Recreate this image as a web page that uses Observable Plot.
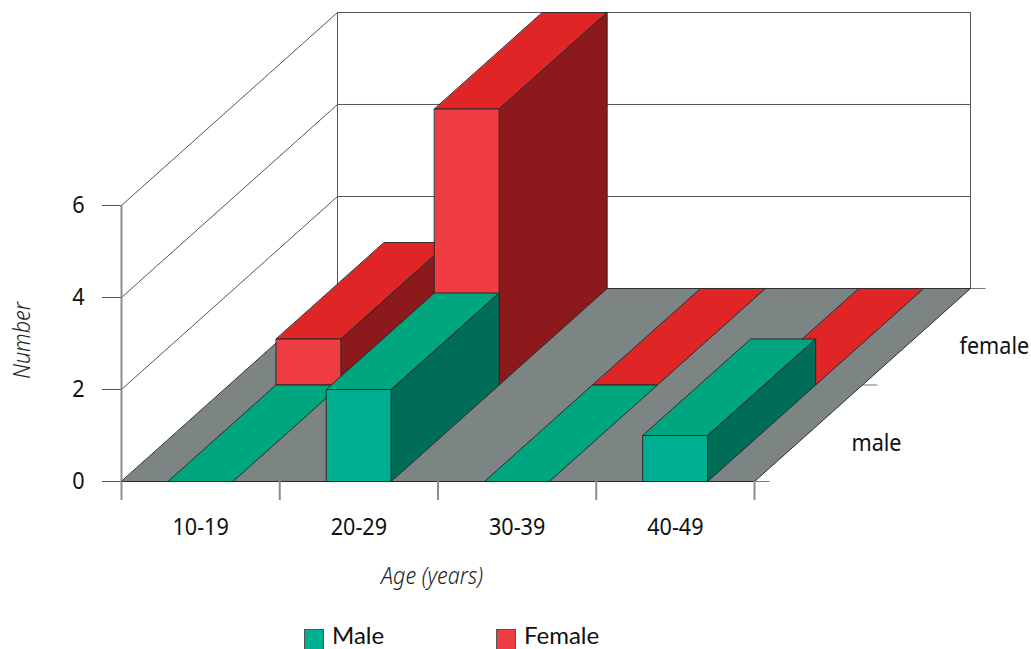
<!DOCTYPE html>
<html>
<head>
<meta charset="utf-8">
<script src="https://cdn.jsdelivr.net/npm/d3@7"></script>
<script src="https://cdn.jsdelivr.net/npm/@observablehq/plot@0.6"></script>
<style>
  html, body { margin: 0; padding: 0; background: #fff; overflow: hidden; }
  body { width: 1031px; height: 649px; font-family: "Noto Sans", sans-serif; color: #111; }
  #chart svg { display: block; }
  #legend { position: relative; height: 29px; font-family: Lato, "Noto Sans", sans-serif; font-size: 24px; line-height: 19px; }
  #legend .swatch { position: absolute; top: 9px; width: 18px; height: 19px; border: 1px solid #555; box-sizing: content-box; }
  #legend .name { position: absolute; top: 5px; height: 19px; }
</style>
</head>
<body>
<div id="chart"></div>
<div id="legend"></div>
<script>
// Counts per age group, one array per sex.
const ageGroups = ["10-19", "20-29", "30-39", "40-49"];
const maleCounts = [0, 2, 0, 1];
const femaleCounts = [1, 6, 0, 0];
const valueTicks = [0, 2, 4, 6];
const depthRows = ["male", "female"];

const maleColors = {front: "#00ae92", top: "#00a67e", side: "#006e56"};
const femaleColors = {front: "#ef3b42", top: "#e02526", side: "#8c1a1d"};
const floorColor = "#7c8484";

// Oblique projection: one unit of depth shifts a point along both plot axes.
const skewX = 1.365;
const skewY = 4.196;
const barHalfWidth = 0.204;
const groupCount = ageGroups.length;
const maxValue = 6;

const at = (group, depth, value) => ({x: group + depth * skewX, y: value + depth * skewY});

const faces = [];
let faceId = 0;
function addFace(color, corners) {
  const id = faceId++;
  for (const [g, d, v] of corners) faces.push({id, color, ...at(g, d, v)});
}

function addBar(i, value, depthStart, colors) {
  const a = i + 0.5 - barHalfWidth;
  const b = i + 0.5 + barHalfWidth;
  const d0 = depthStart;
  const d1 = depthStart + 0.5;
  addFace(colors.top, [[a, d0, value], [b, d0, value], [b, d1, value], [a, d1, value]]);
  if (value > 0) {
    addFace(colors.side, [[b, d0, 0], [b, d1, 0], [b, d1, value], [b, d0, value]]);
    addFace(colors.front, [[a, d0, 0], [b, d0, 0], [b, d0, value], [a, d0, value]]);
  }
}

// Floor first, then the rear row and the front row, left to right.
addFace(floorColor, [[0, 0, 0], [groupCount, 0, 0], [groupCount, 1, 0], [0, 1, 0]]);
femaleCounts.forEach((v, i) => addBar(i, v, 0.5, femaleColors));
maleCounts.forEach((v, i) => addBar(i, v, 0, maleColors));

// Wall grid: a diagonal up the side wall joined to a level line along the back wall.
const gridLines = valueTicks.slice(1).flatMap(v => [
  {v, ...at(0, 0, v)}, {v, ...at(0, 1, v)}, {v, ...at(groupCount, 1, v)}
]);
const wallEdges = [0, groupCount].flatMap(g => [
  {g, ...at(g, 1, 0)}, {g, ...at(g, 1, maxValue)}
]);

// Short ticks off the right edge of the floor, one per depth boundary.
const depthTickLength = 0.095;
const depthTicks = [0, 0.5, 1].map(d => {
  const p = at(groupCount, d, 0);
  return {x1: p.x, x2: p.x + depthTickLength, y: p.y};
});

const height = 620;
const chart = Plot.plot({
  width: 1031,
  height,
  marginLeft: 121,
  marginRight: 61,
  marginTop: 12,
  marginBottom: height - 481,
  x: {domain: [0, groupCount + skewX]},
  y: {domain: [0, maxValue + skewY]},
  color: {type: "identity"},
  style: {background: "transparent", fontFamily: "'Noto Sans', sans-serif", overflow: "visible"},
  marks: [
    Plot.line(gridLines, {x: "x", y: "y", z: "v", stroke: "#555", strokeWidth: 1}),
    Plot.line(wallEdges, {x: "x", y: "y", z: "g", stroke: "#555", strokeWidth: 1}),
    Plot.ruleX([0], {y1: 0, y2: maxValue, stroke: "#8c8c8c", strokeWidth: 2}),
    Plot.link(depthTicks, {x1: "x1", x2: "x2", y1: "y", y2: "y", stroke: "#777", strokeWidth: 1, markerEnd: "none"}),
    Plot.line(faces, {
      x: "x", y: "y", z: "id", fill: "color",
      stroke: "#2b2b2b", strokeWidth: 1, strokeLinejoin: "round", curve: "linear-closed"
    }),
    Plot.axisY({
      ticks: valueTicks, tickFormat: d => String(d), tickSize: 19, tickPadding: 18,
      label: null, fontSize: 24, stroke: "#555", fill: "#111"
    }),
    Plot.axisX({
      ticks: d3.range(groupCount + 1), tickFormat: () => "", tickSize: 19,
      label: null, stroke: "#8c8c8c", strokeWidth: 2
    }),
    Plot.text(ageGroups, {
      x: (d, i) => i + 0.5, y: () => 0, text: d => d, dy: 46,
      fontSize: 24, fill: "#111"
    }),
    Plot.text(depthRows, {
      x: (d, i) => at(groupCount, 0.25 + i * 0.5, 0).x,
      y: (d, i) => at(groupCount, 0.25 + i * 0.5, 0).y,
      text: d => d, dx: 43, dy: 10, textAnchor: "start",
      fontSize: 24, fill: "#111"
    }),
    Plot.text(["Age (years)"], {
      x: () => 2, y: () => 0, text: d => d, dx: -6, dy: 95,
      fontSize: 24, fontStyle: "italic", fontWeight: 300, fill: "#222"
    }),
    Plot.text(["Number"], {
      x: () => 0, y: () => 3, text: d => d, dx: -99, dy: -3, rotate: -90,
      fontSize: 24, fontStyle: "italic", fontWeight: 300, fill: "#222"
    })
  ]
});
document.getElementById("chart").append(chart);

// Narrow every label along its own baseline for tall, slightly condensed letterforms.
const textNarrowing = 0.9;
for (const t of chart.querySelectorAll("text")) {
  const base = t.getAttribute("transform") || "";
  t.setAttribute("transform", `${base} scale(${textNarrowing},1)`);
}

// Legend row under the plot.
const legendEntries = [
  {name: "Male", color: maleColors.front, left: 304},
  {name: "Female", color: femaleColors.front, left: 496}
];
const legend = d3.select("#legend");
for (const e of legendEntries) {
  legend.append("div").attr("class", "swatch").style("left", e.left + "px").style("background", e.color);
  legend.append("div").attr("class", "name").style("left", (e.left + 28) + "px").text(e.name);
}
</script>
</body>
</html>
